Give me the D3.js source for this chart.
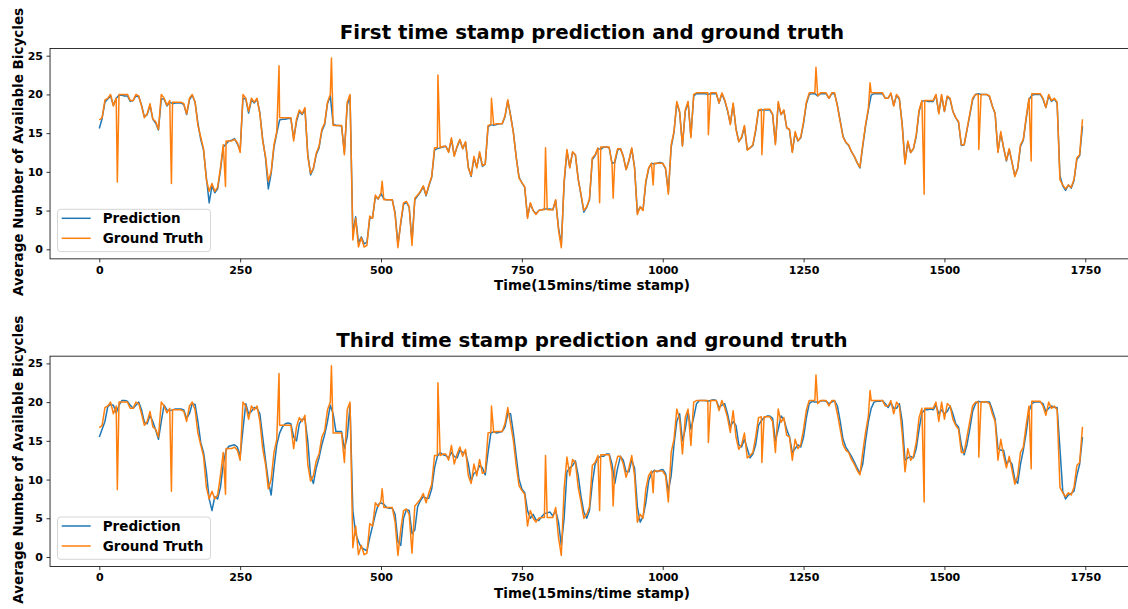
<!DOCTYPE html>
<html>
<head>
<meta charset="utf-8">
<script src="https://cdn.jsdelivr.net/npm/d3@7/dist/d3.min.js"></script>
<style>
  html, body { margin: 0; padding: 0; background: #fff; }
  svg { display: block; font-family: "DejaVu Sans", sans-serif; }
</style>
</head>
<body>
<svg id="chart" width="1128" height="609"></svg>
<script>
// ---------- data (time stamps every 5 steps) ----------
const timeStamps = d3.range(0, 1750, 5);

const groundTruth = [
  16.7,17.0,19.3,19.5,20.0,18.5,19.5,20.0,20.0,20.0,
  20.0,19.2,19.2,20.0,19.8,18.5,17.0,17.5,18.8,16.8,
  16.5,15.5,20.0,19.5,18.6,19.2,19.0,19.0,19.0,19.0,
  18.8,17.5,19.5,20.0,19.0,16.0,14.5,13.0,9.0,7.5,
  8.5,7.5,8.0,10.5,13.5,14.0,14.0,14.0,14.2,13.8,
  12.5,20.0,19.5,17.8,19.5,19.0,19.5,17.5,14.0,12.0,
  8.8,10.0,13.5,15.2,17.0,17.0,17.0,17.0,17.0,14.0,
  16.8,18.0,17.5,18.3,12.0,9.8,10.5,12.4,13.3,15.5,
  16.3,19.0,20.0,16.0,16.0,16.0,16.0,12.2,19.0,20.0,
  1.2,4.0,0.3,1.5,0.3,0.5,4.3,4.0,7.0,6.5,
  7.3,6.4,6.4,6.4,6.4,4.5,0.2,3.5,6.0,6.2,
  5.5,0.5,6.6,7.0,7.5,8.2,7.0,8.3,9.4,13.1,
  13.1,13.1,13.3,13.3,12.5,14.4,12.0,13.3,14.2,13.0,
  13.9,10.5,9.5,12.0,10.5,12.6,10.8,11.0,16.0,16.1,
  16.1,16.2,16.2,16.2,17.2,19.3,17.2,15.0,11.8,9.2,
  8.6,8.1,4.0,6.0,5.0,4.5,5.0,5.1,5.1,5.1,
  5.1,5.1,6.4,2.5,0.2,8.8,12.9,10.5,12.6,12.2,
  9.0,7.1,5.0,5.5,6.5,11.8,12.2,13.1,13.2,13.2,
  13.2,13.2,11.0,11.5,13.0,13.0,12.0,10.3,11.5,13.1,
  10.5,4.5,5.5,5.0,8.8,10.5,11.1,11.1,11.1,11.1,
  11.1,10.5,7.1,13.5,15.2,19.1,17.8,13.3,18.0,19.1,
  14.4,20.0,20.2,20.2,20.2,20.2,20.2,20.2,20.2,20.2,
  18.9,20.2,19.3,18.0,16.1,18.9,15.5,13.9,14.5,16.0,
  12.8,13.1,13.5,15.5,18.0,18.1,18.1,18.1,18.1,17.5,
  13.5,19.1,17.4,18.0,15.7,15.5,12.5,15.2,14.0,14.5,
  16.5,19.0,20.2,20.2,20.2,19.8,20.2,20.2,20.2,19.5,
  20.2,20.2,18.5,16.5,14.5,13.8,13.5,12.6,12.0,11.2,
  10.6,13.5,16.1,18.2,20.2,20.2,20.2,20.2,20.2,19.5,
  19.5,20.2,18.5,20.0,19.5,16.0,11.0,14.0,12.5,13.0,
  14.8,18.0,19.2,19.2,19.2,19.2,19.2,20.0,17.5,20.0,
  17.8,19.8,19.5,17.8,17.0,16.5,13.5,13.5,15.5,17.5,
  19.5,20.0,20.0,20.0,20.0,20.0,19.8,18.5,17.5,12.5,
  15.2,13.1,11.5,13.0,11.2,9.4,10.5,13.5,14.2,17.0,
  19.5,20.1,20.1,20.1,20.1,19.5,18.3,20.0,19.2,19.5,
  19.0,9.0,8.3,7.8,8.3,8.0,9.0,11.8,12.2,16.8
];

// single-time-stamp spikes of the ground truth
const spikeTimes  = [32, 128, 224, 319, 412, 502, 601, 696, 792, 888, 912, 983, 1081, 1176, 1272, 1368, 1464, 1561, 1654];
const spikeValues = [8.7, 8.5, 8.1, 23.7, 24.7, 8.8, 22.5, 19.5, 13.1, 6.0, 6.6, 8.3, 14.8, 12.2, 23.5, 21.5, 7.1, 12.9, 11.4];

const predictionFirst = [
  15.6,16.9,19.0,19.4,19.8,18.6,19.5,19.9,19.9,19.8,
  19.8,19.1,19.2,19.8,19.7,18.6,17.1,17.4,18.6,16.8,
  16.3,15.4,19.4,19.4,18.5,19.0,18.8,18.9,18.9,18.9,
  18.7,17.4,19.3,19.9,19.0,16.3,14.2,12.8,9.3,6.0,
  8.2,7.3,7.8,10.2,13.2,13.6,14.0,14.1,14.3,13.6,
  12.8,19.5,19.4,17.6,19.3,18.9,19.4,17.6,14.2,11.8,
  7.8,9.8,13.2,15.0,16.7,16.8,16.8,16.9,16.9,14.3,
  16.5,17.8,17.4,18.1,12.3,9.6,10.4,12.2,13.1,15.3,
  16.1,18.8,19.8,16.2,16.0,16.0,15.9,12.5,18.6,19.8,
  2.0,4.2,0.8,1.6,0.7,0.9,4.0,4.1,6.8,6.5,
  7.2,6.5,6.4,6.4,6.4,4.7,0.6,3.3,5.8,6.1,
  5.4,1.0,6.4,6.9,7.4,8.1,6.9,8.2,9.3,12.8,
  13.0,13.1,13.2,13.3,12.6,14.2,12.1,13.2,14.1,13.0,
  13.8,10.6,9.4,11.8,10.6,12.4,10.7,11.0,15.8,16.1,
  16.0,16.1,16.2,16.2,17.1,19.2,17.3,15.1,11.9,9.3,
  8.6,8.0,4.2,5.9,5.0,4.6,5.0,5.1,5.2,5.2,
  5.2,5.1,6.3,2.8,0.6,8.5,12.7,10.6,12.5,12.2,
  9.1,7.0,4.8,5.4,6.4,11.6,12.1,13.0,12.9,13.2,
  13.2,13.1,11.1,11.2,12.8,13.0,12.0,10.3,11.4,13.0,
  10.6,4.7,5.5,5.1,8.6,10.4,11.1,11.0,11.1,11.2,
  11.1,10.4,7.4,13.2,15.1,18.9,17.7,13.4,17.8,19.0,
  14.6,19.8,20.1,20.1,20.1,20.1,20.0,20.1,20.1,20.1,
  18.9,20.1,19.2,17.9,16.2,18.7,15.6,13.9,14.4,15.8,
  12.9,13.1,13.4,15.3,17.9,18.0,18.0,18.0,18.0,17.4,
  13.7,18.8,17.4,17.9,15.7,15.4,12.6,15.0,14.0,14.4,
  16.3,18.8,20.0,20.1,20.1,19.8,20.1,20.1,20.1,19.5,
  20.1,20.1,18.6,16.6,14.6,13.8,13.4,12.6,12.0,11.2,
  10.5,13.3,15.9,18.0,19.9,20.1,20.1,20.1,20.1,19.5,
  19.5,20.1,18.6,19.9,19.4,16.2,11.2,13.8,12.5,13.0,
  14.6,17.8,19.1,19.2,19.1,19.1,19.1,19.9,17.6,19.8,
  17.8,19.7,19.4,17.8,17.0,16.4,13.4,13.5,15.4,17.3,
  19.3,20.0,20.1,20.0,20.0,20.0,19.7,18.5,17.5,12.6,
  15.0,13.1,11.4,12.9,11.2,9.5,10.4,13.3,14.1,16.8,
  19.3,19.9,20.0,20.0,20.0,19.4,18.3,19.8,19.1,19.4,
  18.9,9.5,8.2,7.6,8.3,7.9,8.9,11.6,12.1,15.9
];

const predictionThird = [
  15.5,16.5,17.5,19.4,19.7,19.6,18.6,19.6,20.2,20.2,
  20.1,19.6,19.2,19.6,20.0,19.0,17.4,17.2,18.3,17.5,
  16.4,15.2,17.5,19.6,19.0,18.9,19.0,19.1,19.1,19.1,
  19.0,17.9,18.5,19.8,19.7,17.5,14.8,13.5,11.0,7.5,
  6.0,7.8,7.5,9.0,12.0,13.8,14.3,14.4,14.5,14.2,
  13.0,16.5,19.8,18.5,18.8,19.3,19.2,18.5,15.5,12.5,
  9.8,8.0,11.5,14.5,16.0,16.8,17.2,17.3,17.2,15.5,
  15.0,17.2,17.8,17.8,15.0,10.5,9.5,11.5,12.8,14.5,
  15.8,17.5,19.6,18.5,16.2,16.2,16.2,14.0,15.5,19.6,
  6.0,3.0,2.0,1.2,1.0,0.8,2.5,4.0,5.5,6.8,
  7.0,6.8,6.4,6.3,6.3,5.5,2.0,1.5,5.0,6.1,
  6.0,3.0,3.5,6.5,7.3,7.8,7.6,7.6,8.8,11.5,
  13.0,13.5,13.2,13.1,12.8,13.5,13.0,12.8,13.8,13.5,
  13.5,12.0,9.8,10.8,11.0,11.8,11.5,10.6,13.5,16.0,
  16.2,16.0,16.1,16.2,16.8,18.5,18.5,16.0,13.0,10.0,
  8.8,8.3,6.0,5.0,5.5,4.8,4.7,5.2,5.6,5.7,
  5.8,5.3,6.0,4.5,1.5,5.0,11.0,11.5,11.8,12.4,
  10.5,7.8,5.8,5.0,6.0,9.5,12.0,12.8,13.0,13.0,
  13.3,13.3,12.0,9.5,11.5,13.0,12.5,11.0,11.0,12.5,
  11.5,6.5,4.5,5.2,7.0,9.8,10.8,11.2,11.0,11.2,
  11.3,10.8,8.5,10.5,14.5,17.5,18.5,15.0,16.5,18.8,
  16.5,18.0,19.8,20.2,20.2,20.2,20.1,20.2,20.3,20.2,
  19.3,19.6,19.8,18.5,16.8,17.5,17.0,14.5,14.2,15.2,
  14.0,12.8,13.3,14.5,17.0,17.6,18.0,18.2,18.2,17.9,
  15.0,16.5,18.2,17.8,16.5,15.5,13.5,14.0,14.5,14.2,
  15.5,18.0,19.8,20.1,20.0,20.0,20.1,20.2,20.1,19.8,
  20.0,20.2,19.5,17.5,15.2,14.2,13.6,13.0,12.3,11.5,
  10.8,12.0,15.0,17.5,19.2,20.0,20.1,20.1,20.2,19.8,
  19.3,19.9,19.2,19.2,19.8,17.5,12.5,12.8,13.0,12.8,
  14.0,16.5,18.6,19.0,19.0,19.1,19.0,19.6,18.5,19.0,
  18.5,18.8,19.5,18.5,17.2,16.8,14.5,13.2,14.5,16.5,
  18.8,19.8,20.1,20.0,20.0,20.0,20.0,19.0,17.8,14.0,
  13.8,13.8,12.0,12.5,12.0,10.0,9.5,12.0,13.8,16.0,
  18.8,19.8,20.0,20.0,20.0,19.8,18.8,19.2,19.5,19.3,
  19.3,14.0,8.5,7.5,8.0,8.2,8.5,10.5,12.0,15.5
];

const xTickValues = [0, 250, 500, 750, 1000, 1250, 1500, 1750];
const yTickValues = [0, 5, 10, 15, 20, 25];
const panelTitles = ["First time stamp prediction and ground truth", "Third time stamp prediction and ground truth"];
const seriesNames = ["Prediction", "Ground Truth"];
const xLabel = "Time(15mins/time stamp)";
const yLabel = "Average Number of Available Bicycles";

// ---------- layout ----------
const svg = d3.select("#chart");
const COLORS = { pred: "#1f77b4", gt: "#ff7f0e" };
const FONT = "DejaVu Sans, sans-serif";

const x = d3.scaleLinear().domain([-87.45, 1836.45]).range([50.03, 1134.0]);

const gtPoints = timeStamps.map((t, i) => ({ t, v: groundTruth[i] }))
  .concat(spikeTimes.map((t, i) => ({ t, v: spikeValues[i] })))
  .sort((a, b) => a.t - b.t);

function drawPanel(offsetY, title, predValues) {
  const top = 48.46 + offsetY, bottom = 258.86 + offsetY;
  const y = d3.scaleLinear().domain([-1.235, 25.935]).range([bottom, top]);
  const g = svg.append("g");

  const line = d3.line().x(d => x(d.t)).y(d => y(d.v));
  const predPoints = timeStamps.map((t, i) => ({ t, v: predValues[i] }));

  g.append("path").datum(predPoints).attr("d", line)
    .attr("fill", "none").attr("stroke", COLORS.pred).attr("stroke-width", 1.5)
    .attr("stroke-linejoin", "round");
  g.append("path").datum(gtPoints).attr("d", line)
    .attr("fill", "none").attr("stroke", COLORS.gt).attr("stroke-width", 1.5)
    .attr("stroke-linejoin", "round");

  // axes
  const xAxis = d3.axisBottom(x).tickValues(xTickValues).tickSize(3.5).tickPadding(3.5).tickFormat(d3.format("d"));
  const gx = g.append("g").attr("transform", `translate(0,${bottom})`).call(xAxis);
  const yAxis = d3.axisLeft(y).tickValues(yTickValues).tickSize(3.5).tickPadding(3.5).tickFormat(d3.format("d"));
  const gy = g.append("g").attr("transform", `translate(${x.range()[0]},0)`).call(yAxis);
  [gx, gy].forEach(a => {
    a.select(".domain").remove();
    a.selectAll(".tick line").attr("stroke", "#000").attr("stroke-width", 0.8);
    a.selectAll(".tick text").attr("fill", "#000").attr("font-family", FONT)
      .attr("font-weight", "bold").attr("font-size", 11);
  });

  // spines
  g.append("rect").attr("x", x.range()[0]).attr("y", top)
    .attr("width", x.range()[1] - x.range()[0]).attr("height", bottom - top)
    .attr("fill", "none").attr("stroke", "#000").attr("stroke-width", 0.8);

  // title
  g.append("text").attr("x", (x.range()[0] + x.range()[1]) / 2).attr("y", top - 9)
    .attr("text-anchor", "middle").attr("font-family", FONT).attr("font-weight", "bold")
    .attr("font-size", 19.8).text(title);

  // x label
  g.append("text").attr("x", (x.range()[0] + x.range()[1]) / 2).attr("y", bottom + 31)
    .attr("text-anchor", "middle").attr("font-family", FONT).attr("font-weight", "bold")
    .attr("font-size", 13.5).text(xLabel);

  // y label
  g.append("text").attr("transform", `translate(22.5,${152 + offsetY}) rotate(-90)`)
    .attr("text-anchor", "middle").attr("font-family", FONT).attr("font-weight", "bold")
    .attr("font-size", 13.5).text(yLabel);

  // legend
  const lg = g.append("g").attr("transform", `translate(57.5,${209.3 + offsetY})`);
  lg.append("rect").attr("x", 0).attr("y", 0).attr("width", 153).attr("height", 42.3)
    .attr("rx", 3).attr("fill", "#fff").attr("fill-opacity", 0.8)
    .attr("stroke", "#cccccc").attr("stroke-width", 0.8);
  [[seriesNames[0], COLORS.pred, 9], [seriesNames[1], COLORS.gt, 29]].forEach(([name, col, yy]) => {
    lg.append("line").attr("x1", 4.2).attr("x2", 33.2).attr("y1", yy).attr("y2", yy)
      .attr("stroke", col).attr("stroke-width", 1.5);
    lg.append("text").attr("x", 45.2).attr("y", yy + 5.2)
      .attr("font-family", FONT).attr("font-weight", "bold").attr("font-size", 13.5).text(name);
  });
}

drawPanel(0, panelTitles[0], predictionFirst);
drawPanel(307.7, panelTitles[1], predictionThird);
</script>
</body>
</html>
